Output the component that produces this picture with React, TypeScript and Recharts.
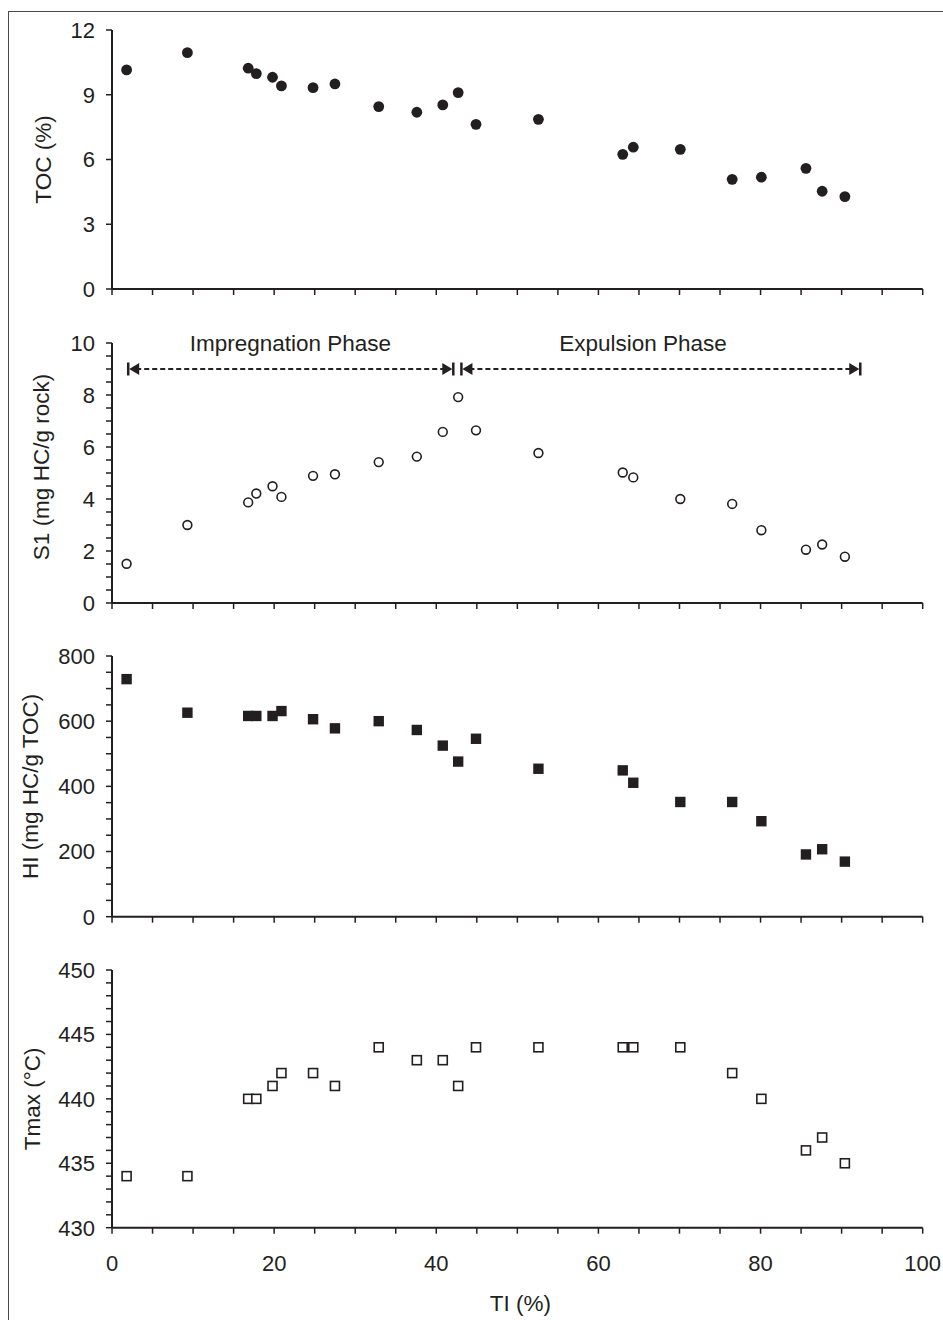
import React from 'react';
import { ScatterChart, Scatter, XAxis, YAxis, ReferenceLine, ReferenceDot } from 'recharts';

const INK = '#231f20';
const FONT = '"Liberation Sans", Arial, Helvetica, sans-serif';

// TI (%) of every sample, shared by the four panels
const tiValues = [1.8, 9.3, 16.8, 17.8, 19.8, 20.9, 24.8, 27.5, 32.9, 37.6, 40.8, 42.7, 44.9, 52.6, 63.0, 64.3, 70.1, 76.5, 80.1, 85.6, 87.6, 90.4];
const tocValues = [10.15, 10.95, 10.23, 9.98, 9.81, 9.41, 9.33, 9.5, 8.45, 8.19, 8.53, 9.1, 7.63, 7.86, 6.24, 6.57, 6.47, 5.08, 5.18, 5.59, 4.53, 4.28];
const s1Values = [1.51, 3.0, 3.87, 4.21, 4.49, 4.08, 4.89, 4.95, 5.42, 5.63, 6.58, 7.92, 6.64, 5.77, 5.02, 4.83, 4.0, 3.81, 2.8, 2.05, 2.25, 1.78];
const hiValues = [729, 626, 616, 616, 616, 631, 606, 578, 600, 573, 525, 476, 546, 454, 449, 411, 352, 352, 293, 191, 207, 169];
const tmaxValues = [434, 434, 440, 440, 441, 442, 442, 441, 444, 443, 443, 441, 444, 444, 444, 444, 444, 442, 440, 436, 437, 435];

// ticks (all marks) and the ones that carry a label
const xTicks = [0, 5, 10, 15, 20, 25, 30, 35, 40, 45, 50, 55, 60, 65, 70, 75, 80, 85, 90, 95, 100];
const xLabelTicks = [0, 20, 40, 60, 80, 100];
const tocTicks = [0, 3, 6, 9, 12];
const s1Ticks = [0, 0.5, 1, 1.5, 2, 2.5, 3, 3.5, 4, 4.5, 5, 5.5, 6, 6.5, 7, 7.5, 8, 8.5, 9, 9.5, 10];
const s1LabelTicks = [0, 2, 4, 6, 8, 10];
const hiTicks = [0, 50, 100, 150, 200, 250, 300, 350, 400, 450, 500, 550, 600, 650, 700, 750, 800];
const hiLabelTicks = [0, 200, 400, 600, 800];
const tmaxTicks = [430, 431, 432, 433, 434, 435, 436, 437, 438, 439, 440, 441, 442, 443, 444, 445, 446, 447, 448, 449, 450];
const tmaxLabelTicks = [430, 435, 440, 445, 450];

// phase arrows in the S1 panel
const phaseNames = ['Impregnation Phase', 'Expulsion Phase'];
const phaseStart = [2.0, 43.1];
const phaseEnd = [42.1, 92.3];
const phaseLabelX = [22, 65.5];
const phaseArrowY = 9;
const phaseLabelY = 10;

const toPoints = (ys: number[]) => tiValues.map((x, i) => ({ x, y: ys[i] }));

const makeYTick = (labels: number[]) => (props: any) => {
  const { x, y, payload } = props;
  const v = payload.value;
  return (
    <g>
      <line x1={x} x2={x - 6} y1={y} y2={y} stroke={INK} strokeWidth={1.5} />
      {labels.includes(v) && (
        <text x={x - 17} y={y} dy="0.36em" textAnchor="end" fontSize={22} fill={INK} fontFamily={FONT}>
          {v}
        </text>
      )}
    </g>
  );
};

const makeXTick = (labels: number[]) => (props: any) => {
  const { x, y, payload } = props;
  const v = payload.value;
  return (
    <g>
      <line x1={x} x2={x} y1={y} y2={y + 6} stroke={INK} strokeWidth={1.5} />
      {labels.includes(v) && (
        <text x={x} y={y + 35} dy="0.36em" textAnchor="middle" fontSize={22} fill={INK} fontFamily={FONT}>
          {v}
        </text>
      )}
    </g>
  );
};

const YTitle = (props: any) => {
  const { viewBox, text, cx, shift = 0, fallbackY } = props;
  const cy = (viewBox && viewBox.height ? viewBox.y + viewBox.height / 2 : fallbackY) + shift;
  return (
    <text x={cx} y={cy} transform={`rotate(-90 ${cx} ${cy})`} textAnchor="middle" dominantBaseline="central"
      fontSize={22.5} fill={INK} fontFamily={FONT}>
      {text}
    </text>
  );
};

const XTitle = (props: any) => {
  const { viewBox, text } = props;
  const cx = viewBox ? viewBox.x + viewBox.width / 2 + 3 : 520;
  const cy = viewBox ? viewBox.y + 76 : 1304;
  return (
    <text x={cx} y={cy} textAnchor="middle" dominantBaseline="central" fontSize={22.5} fill={INK} fontFamily={FONT}>
      {text}
    </text>
  );
};

const PhaseArrow = (props: any) => {
  const { x1, y1, x2 } = props;
  const y = y1;
  return (
    <g>
      <line x1={x1 + 8} x2={x2 - 8} y1={y} y2={y} stroke={INK} strokeWidth={2} strokeDasharray="5 3" />
      <line x1={x1} x2={x1} y1={y - 6.5} y2={y + 6.5} stroke={INK} strokeWidth={2.5} />
      <polygon points={`${x1 + 1},${y} ${x1 + 11},${y - 6} ${x1 + 11},${y + 6}`} fill={INK} />
      <line x1={x2} x2={x2} y1={y - 6.5} y2={y + 6.5} stroke={INK} strokeWidth={2.5} />
      <polygon points={`${x2 - 1},${y} ${x2 - 11},${y - 6} ${x2 - 11},${y + 6}`} fill={INK} />
    </g>
  );
};

const filledCircle = (p: any) => <circle cx={p.cx} cy={p.cy} r={5.4} fill={INK} />;
const openCircle = (p: any) => <circle cx={p.cx} cy={p.cy} r={4.4} fill="#fff" stroke={INK} strokeWidth={1.6} />;
const filledSquare = (p: any) => <rect x={p.cx - 5.2} y={p.cy - 5.2} width={10.4} height={10.4} fill={INK} />;
const openSquare = (p: any) => (
  <rect x={p.cx - 4.5} y={p.cy - 4.5} width={9} height={9} fill="#fff" stroke={INK} strokeWidth={1.6} />
);

// room above each plot so that top tick labels and phase labels are never near the svg edge
const MT = 30;

interface PanelProps {
  top: number;
  bottom: number;
  yDomain: [number, number];
  yTicks: number[];
  yLabelTicks: number[];
  yTitle: string;
  yTitleX: number;
  yTitleShift?: number;
  values: number[];
  shape: (p: any) => React.ReactElement;
  showX?: boolean;
  children?: React.ReactNode;
}

function Panel({ top, bottom, yDomain, yTicks, yLabelTicks, yTitle, yTitleX, yTitleShift = 0, values, shape, showX = false, children }: PanelProps) {
  const xh = showX ? 92 : 20;
  const height = bottom - top + MT + xh;
  return (
    <div style={{ position: 'absolute', left: 0, top: top - MT }}>
      <ScatterChart width={943} height={height} margin={{ top: MT, right: 20.3, bottom: 0, left: 0 }}>
        <XAxis
          type="number"
          dataKey="x"
          domain={[0, 100]}
          ticks={xTicks}
          interval={0}
          height={xh}
          tickSize={0}
          tickMargin={0}
          tickLine={false}
          axisLine={{ stroke: INK, strokeWidth: 2 }}
          tick={makeXTick(showX ? xLabelTicks : [])}
          label={showX ? <XTitle text="TI (%)" /> : undefined}
        />
        <YAxis
          type="number"
          dataKey="y"
          domain={yDomain}
          ticks={yTicks}
          interval={0}
          width={112}
          tickSize={0}
          tickMargin={0}
          tickLine={false}
          axisLine={{ stroke: INK, strokeWidth: 2 }}
          tick={makeYTick(yLabelTicks)}
          label={<YTitle text={yTitle} cx={yTitleX} shift={yTitleShift} fallbackY={(bottom - top) / 2 + MT} />}
        />
        {children}
        <Scatter data={toPoints(values)} shape={shape} isAnimationActive={false} />
      </ScatterChart>
    </div>
  );
}

export default function App() {
  return (
    <div style={{ position: 'relative', width: 943, height: 1320, overflow: 'hidden', background: '#fff', fontFamily: FONT }}>
      <style>{'body{margin:0;}'}</style>
      <div style={{ position: 'absolute', left: 8, top: 11, width: 960, height: 1340, borderLeft: '1px solid #4a4a4a', borderTop: '1px solid #4a4a4a' }} />
      <Panel top={30} bottom={289} yDomain={[0, 12]} yTicks={tocTicks} yLabelTicks={tocTicks}
        yTitle="TOC (%)" yTitleX={43} values={tocValues} shape={filledCircle} />
      <Panel top={342.7} bottom={602.7} yDomain={[0, 10]} yTicks={s1Ticks} yLabelTicks={s1LabelTicks}
        yTitle="S1 (mg HC/g rock)" yTitleX={41} yTitleShift={-6} values={s1Values} shape={openCircle}>
        {phaseNames.map((name, i) => (
          <ReferenceLine
            key={`arrow-${name}`}
            segment={[{ x: phaseStart[i], y: phaseArrowY }, { x: phaseEnd[i], y: phaseArrowY }]}
            shape={PhaseArrow}
            stroke={INK}
          />
        ))}
        {phaseNames.map((name, i) => (
          <ReferenceDot
            key={`label-${name}`}
            x={phaseLabelX[i]}
            y={phaseLabelY}
            r={0}
            fill="none"
            stroke="none"
            label={{ value: name, position: 'center', fill: INK, fontSize: 22.5, fontFamily: FONT }}
          />
        ))}
      </Panel>
      <Panel top={656} bottom={916.7} yDomain={[0, 800]} yTicks={hiTicks} yLabelTicks={hiLabelTicks}
        yTitle="HI (mg HC/g TOC)" yTitleX={30} values={hiValues} shape={filledSquare} />
      <Panel top={970} bottom={1227.7} yDomain={[430, 450]} yTicks={tmaxTicks} yLabelTicks={tmaxLabelTicks}
        yTitle="Tmax (°C)" yTitleX={32} values={tmaxValues} shape={openSquare} showX />
    </div>
  );
}
